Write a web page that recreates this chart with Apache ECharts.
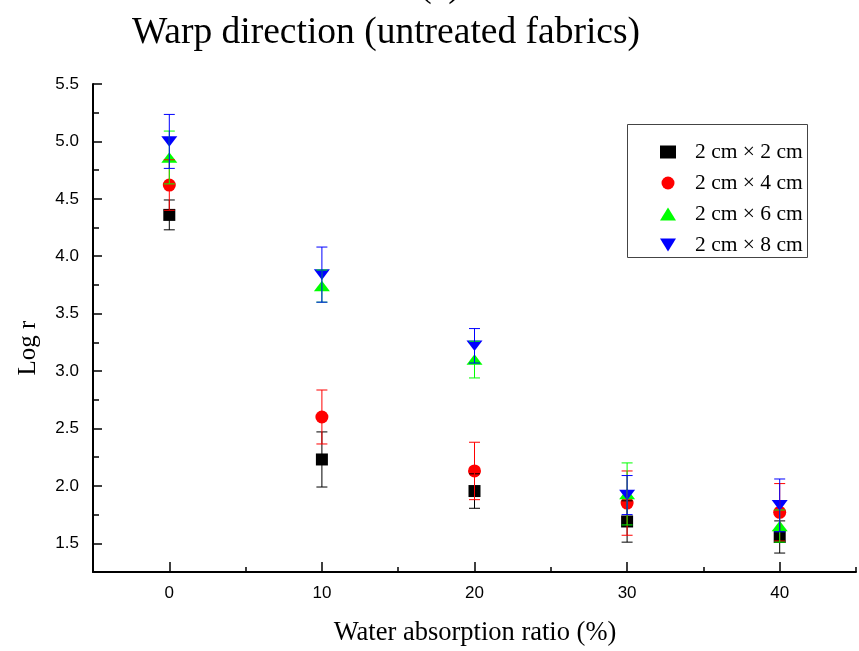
<!DOCTYPE html>
<html>
<head>
<meta charset="utf-8">
<script src="https://cdn.jsdelivr.net/npm/echarts@6/dist/echarts.min.js"></script>
<style>html,body{margin:0;padding:0;background:#fff;}#c{width:859px;height:651px;}</style>
</head>
<body>
<div id="c"></div>
<script>
// ---- data ----
var xValues = [0, 10, 20, 30, 40];
var seriesNames = ['2 cm \u00d7 2 cm', '2 cm \u00d7 4 cm', '2 cm \u00d7 6 cm', '2 cm \u00d7 8 cm'];
var s2x2 = [4.36, 2.23, 1.955, 1.69, 1.555];
var e2x2 = [0.13, 0.24, 0.15, 0.18, 0.14];
var s2x4 = [4.62, 2.60, 2.13, 1.85, 1.77];
var e2x4 = [0.22, 0.235, 0.25, 0.28, 0.25];
var s2x6 = [4.86, 3.74, 3.10, 1.93, 1.65];
var e2x6 = [0.23, 0.14, 0.16, 0.27, 0.14];
var s2x8 = [5.00, 3.84, 3.22, 1.92, 1.83];
var e2x8 = [0.235, 0.24, 0.15, 0.17, 0.23];
var xMajorTicks = [0, 10, 20, 30, 40];
var yMajorTicks = [1.5, 2.0, 2.5, 3.0, 3.5, 4.0, 4.5, 5.0, 5.5];

var values = [s2x2, s2x4, s2x6, s2x8];
var errors = [e2x2, e2x4, e2x6, e2x8];
var colors = ['#000000', '#ff0000', '#00ff00', '#0000ff'];
var symbols = ['rect', 'circle', 'path://M8,0L16,13L0,13Z', 'path://M0,0L16,0L8,13Z'];
var symbolSizes = [12, 13, [16, 13], [16, 13]];

var chart = echarts.init(document.getElementById('c'), null, {renderer: 'canvas'});

var series = [];
values.forEach(function (vals, i) {
  series.push({
    name: seriesNames[i],
    type: 'scatter',
    xAxisIndex: 0, yAxisIndex: 0,
    symbol: symbols[i],
    symbolSize: symbolSizes[i],
    symbolKeepAspect: true,
    itemStyle: {color: colors[i], opacity: 1},
    z: 2,
    data: xValues.map(function (x, k) { return [x, vals[k]]; })
  });
});
values.forEach(function (vals, i) {
  series.push({
    name: seriesNames[i],
    type: 'custom',
    xAxisIndex: 0, yAxisIndex: 0,
    z: 3,
    silent: true,
    data: xValues.map(function (x, k) { return [x, vals[k] - errors[i][k], vals[k] + errors[i][k]]; }),
    renderItem: function (params, api) {
      var lo = api.coord([api.value(0), api.value(1)]);
      var hi = api.coord([api.value(0), api.value(2)]);
      var hw = 5.5;
      var st = {stroke: colors[i], lineWidth: 1};
      return {
        type: 'group',
        children: [
          {type: 'line', shape: {x1: lo[0], y1: lo[1], x2: hi[0], y2: hi[1]}, style: st},
          {type: 'line', shape: {x1: lo[0] - hw, y1: lo[1], x2: lo[0] + hw, y2: lo[1]}, style: st},
          {type: 'line', shape: {x1: hi[0] - hw, y1: hi[1], x2: hi[0] + hw, y2: hi[1]}, style: st}
        ]
      };
    }
  });
});

var axisLineStyle = {color: '#000', width: 2};
var option = {
  backgroundColor: '#fff',
  animation: false,
  grid: {left: 93, right: 2, top: 84, bottom: 79, containLabel: false},
  xAxis: [{
    type: 'value', min: -5, max: 45, interval: 5,
    axisLine: {show: true, onZero: false, lineStyle: axisLineStyle},
    axisTick: {show: true, inside: true, length: 5, lineStyle: {color: '#000', width: 1.5}},
    splitLine: {show: false},
    axisLabel: {
      margin: 13, color: '#000', fontFamily: 'Liberation Sans', fontSize: 17,
      formatter: function (v) { return (v % 10 === 0 && v >= 0 && v <= 40) ? String(v) : ''; }
    }
  }, {
    type: 'value', min: -5, max: 45, position: 'bottom',
    axisLine: {show: false, onZero: false},
    axisTick: {show: true, inside: true, length: 10, customValues: xMajorTicks, lineStyle: {color: '#000', width: 1.5}},
    axisLabel: {show: false},
    splitLine: {show: false}
  }],
  yAxis: [{
    type: 'value', min: 1.25, max: 5.5, interval: 0.25,
    axisLine: {show: true, onZero: false, lineStyle: axisLineStyle},
    axisTick: {show: true, inside: true, length: 6, lineStyle: {color: '#000', width: 1.5}},
    splitLine: {show: false},
    axisLabel: {
      margin: 14, color: '#000', fontFamily: 'Liberation Sans', fontSize: 17,
      formatter: function (v) {
        var d = Math.round(v * 100);
        return (d % 50 === 0 && v >= 1.5) ? v.toFixed(1) : '';
      }
    }
  }, {
    type: 'value', min: 1.25, max: 5.5, position: 'left',
    axisLine: {show: false, onZero: false},
    axisTick: {show: true, inside: true, length: 9, customValues: yMajorTicks, lineStyle: {color: '#000', width: 1.5}},
    axisLabel: {show: false},
    splitLine: {show: false}
  }],
  legend: {
    left: 655, top: 136, orient: 'vertical',
    itemWidth: 16, itemHeight: 13, itemGap: 9,
    data: seriesNames.map(function (n, i) { return {name: n, icon: symbols[i]}; }),
    textStyle: {fontFamily: 'Liberation Serif', fontSize: 21.5, lineHeight: 20, color: '#000', padding: [0, 0, 0, 14]},
    selectedMode: false
  },
  graphic: [
    {type: 'rect', shape: {x: 627.5, y: 124.5, width: 180, height: 133}, style: {fill: 'none', stroke: '#444', lineWidth: 1}, z: 10},
    {type: 'text', x: 386, y: 33, style: {text: 'Warp direction (untreated fabrics)', font: '37.5px "Liberation Serif"', fill: '#000', align: 'center', verticalAlign: 'middle'}},
    {type: 'text', x: 440, y: 5, style: {text: '(a)', font: '37.5px "Liberation Serif"', fill: '#000', align: 'center', verticalAlign: 'bottom'}},
    {type: 'text', x: 475, y: 633, style: {text: 'Water absorption ratio (%)', font: '26.5px "Liberation Serif"', fill: '#000', align: 'center', verticalAlign: 'middle'}},
    {type: 'text', x: 28, y: 348, rotation: Math.PI / 2, style: {text: 'Log r', font: '25px "Liberation Serif"', fill: '#000', align: 'center', verticalAlign: 'middle'}}
  ],
  series: series
};
chart.setOption(option);
</script>
</body>
</html>
